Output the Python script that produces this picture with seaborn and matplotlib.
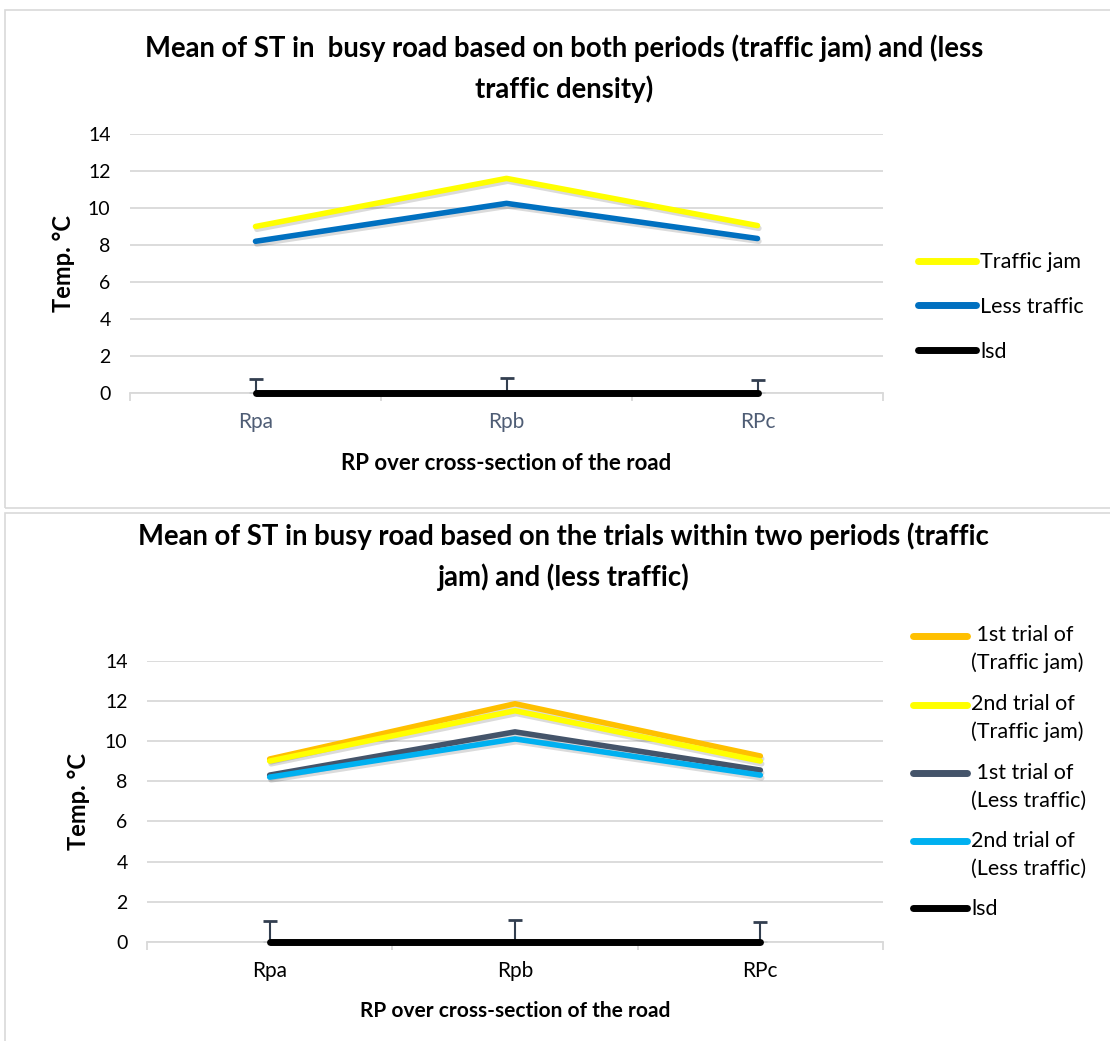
import seaborn as sns
import matplotlib.pyplot as plt
import matplotlib.patheffects as pe
from matplotlib.patches import Rectangle
from matplotlib.ticker import FixedLocator
from matplotlib.legend_handler import HandlerLine2D
import pandas as pd
import numpy as np

# categories on the x axis
sites = ['Rpa', 'Rpb', 'RPc']

# top chart: mean of both periods
traffic_jam = [9.0, 11.6, 9.05]
less_traffic = [8.2, 10.25, 8.35]
lsd_top = [0.0, 0.0, 0.0]
lsd_err_top = [0.76, 0.8, 0.72]

# bottom chart: trials within the two periods
trial1_jam = [9.1, 11.85, 9.25]
trial2_jam = [9.0, 11.5, 9.0]
trial1_less = [8.3, 10.45, 8.55]
trial2_less = [8.2, 10.1, 8.3]
lsd_bottom = [0.0, 0.0, 0.0]
lsd_err_bottom = [1.05, 1.1, 1.0]

sns.set_theme(style="white")
plt.rcParams['font.family'] = ['Lato', 'DejaVu Sans']
plt.rcParams['text.color'] = 'black'
plt.rcParams['axes.labelcolor'] = 'black'

fig = plt.figure(figsize=(11.1, 10.41), dpi=100)

# panel frames
fig.patches.append(Rectangle((5 / 1110, 1 - 508 / 1041), 1.2, 498 / 1041, transform=fig.transFigure,
                             fill=False, edgecolor='#D9D9D9', lw=1.2))
fig.patches.append(Rectangle((5 / 1110, -0.1), 1.2, 1 - 513 / 1041 + 0.1, transform=fig.transFigure,
                             fill=False, edgecolor='#D9D9D9', lw=1.2))


class TopLine(HandlerLine2D):
    # puts the legend line level with the first line of a two-line label
    def __init__(self, shift, **kw):
        super().__init__(**kw)
        self.shift = shift

    def create_artists(self, legend, orig_handle, xdescent, ydescent, width, height, fontsize, trans):
        arts = super().create_artists(legend, orig_handle, xdescent, ydescent, width, height, fontsize, trans)
        for a in arts:
            a.set_ydata(np.asarray(a.get_ydata()) + self.shift)
        return arts


def draw_panel(ax, series, colors, lsd_err, xtick_color, label_size):
    rows = []
    for name, vals in series.items():
        for s, v in zip(sites, vals):
            rows.append({'site': s, 'temp': v, 'series': name})
    df = pd.DataFrame(rows)
    names = list(series.keys())
    sns.lineplot(data=df, x='site', y='temp', hue='series', hue_order=names,
                 palette=dict(zip(names, colors)), lw=4, sort=False, ax=ax)
    lines = list(ax.lines)
    data_lines = []
    for ln in lines:
        ln.set_solid_capstyle('round')
        if np.allclose(np.asarray(ln.get_ydata(), dtype=float), 0):
            # lsd baseline
            ln.set_linewidth(5)
            ln.set_clip_on(False)
            ln.set_zorder(3)
        else:
            data_lines.append(ln)
    # lsd error bars, upper side only
    ax.errorbar(sites, series[names[-1]], yerr=[np.zeros(len(sites)), lsd_err], fmt='none',
                ecolor='#333F50', elinewidth=1.5, capsize=5, capthick=2, zorder=1)
    ax.set_ylim(0, 14)
    ax.set_xlim(-0.5, 2.5)
    ax.set_yticks(range(0, 15, 2))
    ax.grid(axis='y', color='#D9D9D9', lw=1.3)
    ax.set_axisbelow(True)
    for sp in ['top', 'right', 'left']:
        ax.spines[sp].set_visible(False)
    ax.spines['bottom'].set_color('#D9D9D9')
    ax.spines['bottom'].set_linewidth(1.3)
    ax.xaxis.set_minor_locator(FixedLocator([-0.5, 0.5, 1.5, 2.5]))
    ax.tick_params(axis='x', which='major', length=0, pad=14, labelsize=15, labelcolor=xtick_color)
    ax.tick_params(axis='x', which='minor', length=6, width=1.3, color='#D9D9D9', direction='out', bottom=True)
    ax.tick_params(axis='y', length=0, pad=14, labelsize=14, labelcolor='#000000')
    ax.set_ylabel('Temp. °C', fontsize=17, fontweight='bold')
    ax.set_xlabel('RP over cross-section of the road', fontsize=label_size, fontweight='bold')
    return data_lines


# top chart
ax1 = fig.add_axes([130 / 1110, 1 - 393 / 1041, 753 / 1110, 259 / 1041])
top_series = {'Traffic jam': traffic_jam, 'Less traffic': less_traffic, 'lsd': lsd_top}
lines1 = draw_panel(ax1, top_series, ['#FFFF00', '#0070C0', '#000000'], lsd_err_top, '#4F5D75', 16)
ax1.yaxis.set_label_coords(-0.073, 0.5)
ax1.xaxis.set_label_coords(0.5, -0.232)
h, l = ax1.get_legend_handles_labels()
ax1.legend(h, l, loc='center left', bbox_to_anchor=(918 / 1110, 1 - 307 / 1041),
           bbox_transform=fig.transFigure, frameon=False, fontsize=15.5, handlelength=2.7,
           handletextpad=0.2, labelspacing=1.15, borderpad=0, borderaxespad=0)
fig.text(0.508, 1 - 68.5 / 1041, 'Mean of ST in  busy road based on both periods (traffic jam) and (less\ntraffic density)',
         ha='center', va='center', fontsize=19.8, fontweight='bold', linespacing=1.58)

# bottom chart
ax2 = fig.add_axes([147 / 1110, 1 - 942 / 1041, 736 / 1110, 281.5 / 1041])
bottom_series = {' 1st trial of\n(Traffic jam)': trial1_jam, '2nd trial of\n(Traffic jam)': trial2_jam,
                 ' 1st trial of\n(Less traffic)': trial1_less, '2nd trial of\n(Less traffic)': trial2_less,
                 'lsd': lsd_bottom}
lines2 = draw_panel(ax2, bottom_series, ['#FFC000', '#FFFF00', '#44546A', '#00B0F0', '#000000'],
                    lsd_err_bottom, '#000000', 15)
ax2.yaxis.set_label_coords(-0.078, 0.5)
ax2.xaxis.set_label_coords(0.5, -0.21)
h, l = ax2.get_legend_handles_labels()
hmap = {hd: TopLine(10) for hd, lb in zip(h, l) if '\n' in lb}
leg2 = ax2.legend(h, l, loc='center left', bbox_to_anchor=(913 / 1110, 1 - 772 / 1041),
                  bbox_transform=fig.transFigure, frameon=False, fontsize=15.5, handlelength=2.5,
                  handletextpad=0.2, labelspacing=0.95, borderpad=0, borderaxespad=0, handler_map=hmap)
for t in leg2.get_texts():
    t.set_linespacing(1.48)
fig.text(0.508, 1 - 556.5 / 1041, 'Mean of ST in busy road based on the trials within two periods (traffic\njam) and (less traffic)',
         ha='center', va='center', fontsize=19.8, fontweight='bold', linespacing=1.58)

# soft shadow under the data lines (not lsd)
for ln in lines1 + lines2:
    ln.set_path_effects([pe.SimpleLineShadow(offset=(1, -2), shadow_color='#000000', alpha=0.14),
                         pe.Normal()])

fig.savefig('out.png', dpi=100)
